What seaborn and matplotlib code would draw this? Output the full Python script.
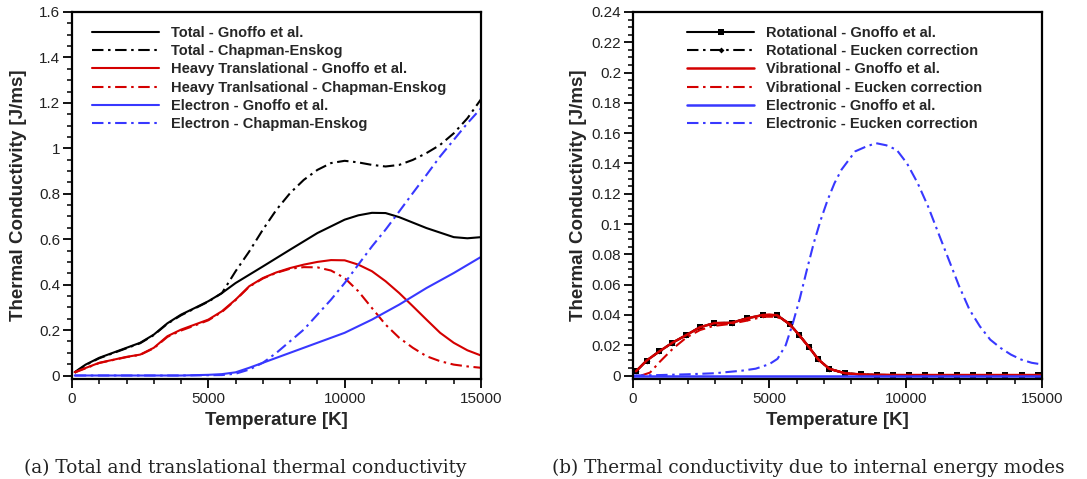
import numpy as np
import pandas as pd
import seaborn as sns
import matplotlib
matplotlib.use("Agg")
import matplotlib.pyplot as plt
from matplotlib.ticker import MultipleLocator, FuncFormatter

# ---------------- data: panel (a) ----------------
T_tot_g = [100, 500, 1000, 1500, 2000, 2500, 3000, 3500, 4000, 4500, 5000, 5500, 6000,
           7000, 8000, 9000, 10000, 10500, 11000, 11500, 12000, 13000, 14000, 14500, 15000]
k_tot_g = [0.015, 0.048, 0.078, 0.100, 0.122, 0.144, 0.180, 0.230, 0.268, 0.297, 0.327, 0.363, 0.407,
           0.480, 0.554, 0.627, 0.686, 0.705, 0.716, 0.715, 0.697, 0.649, 0.609, 0.604, 0.609]

T_tot_ce = [100, 500, 1000, 1500, 2000, 2500, 3000, 3500, 4000, 4500, 5000, 5500, 6000, 6500,
            7000, 7500, 8000, 8500, 9000, 9500, 10000, 10500, 11000, 11500, 12000, 12500,
            13000, 13500, 14000, 14500, 15000]
k_tot_ce = [0.012, 0.046, 0.076, 0.098, 0.120, 0.142, 0.178, 0.228, 0.265, 0.295, 0.325, 0.363, 0.459, 0.546,
            0.642, 0.730, 0.803, 0.861, 0.905, 0.935, 0.945, 0.938, 0.927, 0.920, 0.927, 0.949,
            0.979, 1.015, 1.066, 1.132, 1.216]

T_ht_g = [100, 1000, 2000, 2500, 3000, 3500, 4000, 4500, 5000, 5500, 6000, 6500, 7000, 7500,
          8000, 8500, 9000, 9500, 10000, 10500, 11000, 11500, 12000, 12500, 13000, 13500,
          14000, 14500, 15000]
k_ht_g = [0.015, 0.056, 0.082, 0.092, 0.122, 0.173, 0.202, 0.224, 0.246, 0.283, 0.334, 0.393, 0.429, 0.454,
          0.473, 0.488, 0.500, 0.508, 0.507, 0.488, 0.459, 0.415, 0.363, 0.305, 0.246, 0.188,
          0.144, 0.111, 0.088]

T_ht_ce = [100, 1000, 2000, 2500, 3000, 3500, 4000, 4500, 5000, 5500, 6000, 6500, 7000, 7500,
           8000, 8500, 9000, 9500, 10000, 10500, 11000, 11500, 12000, 12500, 13000, 13500,
           14000, 14500, 15000]
k_ht_ce = [0.013, 0.055, 0.081, 0.091, 0.120, 0.170, 0.198, 0.220, 0.243, 0.280, 0.332, 0.391, 0.427, 0.452,
           0.470, 0.477, 0.476, 0.462, 0.429, 0.371, 0.297, 0.224, 0.166, 0.122, 0.085, 0.063,
           0.048, 0.040, 0.034]

T_el_g = [100, 2000, 4000, 5000, 5500, 6000, 6500, 7000, 8000, 9000, 10000, 11000, 12000,
          13000, 14000, 15000]
k_el_g = [0.0, 0.0, 0.0, 0.003, 0.006, 0.014, 0.034, 0.056, 0.100, 0.144, 0.188, 0.246, 0.312,
          0.385, 0.451, 0.522]

T_el_ce = [100, 2000, 4000, 5500, 6000, 6500, 7000, 7500, 8000, 8500, 9000, 9500, 10000, 10500,
           11000, 11500, 12000, 12500, 13000, 13500, 14000, 14500, 15000]
k_el_ce = [0.0, 0.0, 0.0, 0.002, 0.008, 0.026, 0.056, 0.100, 0.151, 0.202, 0.268, 0.334, 0.407, 0.488,
           0.568, 0.642, 0.722, 0.803, 0.883, 0.964, 1.037, 1.110, 1.176]

# ---------------- data: panel (b) ----------------
T_rot = [110, 502, 965, 1442, 1944, 2457, 2983, 3620, 4170, 4757, 5293, 5758, 6100, 6455,
         6797, 7200, 7775, 8362, 8960, 9546, 10130, 10710, 11300, 11894, 12481, 13067,
         13654, 14278, 14865]
k_rot_g = [0.0028, 0.0099, 0.0159, 0.0216, 0.0266, 0.0319, 0.0346, 0.0348, 0.0377, 0.0399, 0.0397,
           0.0337, 0.0266, 0.0187, 0.0106, 0.0044, 0.0015, 0.0007, 0.0004, 0.0003, 0.0003,
           0.0002, 0.0002, 0.0002, 0.0002, 0.0002, 0.0002, 0.0002, 0.0002]
k_rot_e = [0.0028, 0.0099, 0.0159, 0.0216, 0.0266, 0.0319, 0.0346, 0.0348, 0.0377, 0.0399, 0.0397,
           0.0337, 0.0266, 0.0187, 0.0106, 0.0044, 0.0015, 0.0007, 0.0004, 0.0003, 0.0003,
           0.0002, 0.0002, 0.0002, 0.0002, 0.0002, 0.0002, 0.0002, 0.0002]

T_vib_g = [110, 502, 965, 1442, 1944, 2457, 2983, 3620, 4170, 4757, 5000, 5293, 5758, 6100, 6455,
           6797, 7200, 7775, 8362, 9000, 10000, 12000, 15000]
k_vib_g = [0.0028, 0.0099, 0.0159, 0.0216, 0.0266, 0.0319, 0.0346, 0.0348, 0.0377, 0.0399, 0.0402,
           0.0397, 0.0337, 0.0266, 0.0187, 0.0106, 0.0044, 0.0015, 0.0007, 0.0004, 0.0003,
           0.0003, 0.0003]

T_vib_e = [300, 623, 990, 1479, 1968, 2457, 2945, 3557, 4169, 4779, 5270, 5637, 6100, 6455,
           6797, 7200, 7775, 8362, 9000, 10000, 12000, 15000]
k_vib_e = [0.0, 0.0019, 0.0092, 0.0180, 0.0252, 0.0300, 0.0327, 0.0340, 0.0362, 0.0388, 0.0388,
           0.0355, 0.0266, 0.0187, 0.0106, 0.0044, 0.0015, 0.0007, 0.0004, 0.0003, 0.0003, 0.0003]

T_elec_g = [0, 5000, 10000, 15000]
k_elec_g = [0.0, 0.0, 0.0, 0.0]

T_elec_e = [0, 1000, 2000, 3000, 4000, 4500, 5000, 5300, 5600, 5870, 6120, 6380, 6630, 6890,
            7140, 7390, 7650, 7900, 8150, 8530, 8910, 9290, 9670, 10050, 10440, 10820, 11200,
            11580, 11960, 12340, 12720, 13100, 13480, 13860, 14240, 14620, 15000]
k_elec_e = [0.0, 0.0003, 0.0008, 0.0015, 0.0032, 0.0045, 0.0075, 0.011, 0.020, 0.035, 0.051, 0.070,
            0.0875, 0.103, 0.116, 0.127, 0.136, 0.142, 0.148, 0.151, 0.1534, 0.152, 0.149, 0.140,
            0.127, 0.1117, 0.094, 0.0765, 0.059, 0.0435, 0.0325, 0.0237, 0.0182, 0.0138,
            0.0105, 0.0084, 0.0073]

labels_a = ["Total - Gnoffo et al.", "Total - Chapman-Enskog",
            "Heavy Translational - Gnoffo et al.", "Heavy Tranlsational - Chapman-Enskog",
            "Electron - Gnoffo et al.", "Electron - Chapman-Enskog"]
labels_b = ["Rotational - Gnoffo et al.", "Rotational - Eucken correction",
            "Vibrational - Gnoffo et al.", "Vibrational - Eucken correction",
            "Electronic - Gnoffo et al.", "Electronic - Eucken correction"]

# ---------------- style ----------------
sns.set_theme(style="ticks")
plt.rcParams["font.family"] = ["Liberation Sans", "DejaVu Sans"]

BLACK = "#000000"
RED = "#d40000"
BLUE = "#3838ff"
DD = (0, (5.5, 2.2, 1.2, 2.2))
LW = 1.5

fig = plt.figure(figsize=(10.87, 4.79), dpi=100)
axA = fig.add_axes([72 / 1087, 1 - 379 / 479, 409 / 1087, 367 / 479])
axB = fig.add_axes([633 / 1087, 1 - 379 / 479, 409 / 1087, 367 / 479])


def line(ax, x, y, color, ls, label, lw=LW, **kw):
    sns.lineplot(x=np.asarray(x, float), y=np.asarray(y, float), ax=ax, color=color,
                 linestyle=ls, linewidth=lw, label=label, estimator=None, sort=False, **kw)


# panel (a)
line(axA, T_tot_g, k_tot_g, BLACK, "-", labels_a[0])
line(axA, T_tot_ce, k_tot_ce, BLACK, DD, labels_a[1])
line(axA, T_ht_g, k_ht_g, RED, "-", labels_a[2])
line(axA, T_ht_ce, k_ht_ce, RED, DD, labels_a[3])
line(axA, T_el_g, k_el_g, BLUE, "-", labels_a[4])
line(axA, T_el_ce, k_el_ce, BLUE, DD, labels_a[5])

# panel (b)
line(axB, T_rot, k_rot_e, BLACK, DD, labels_b[1], marker="D", markersize=3,
     markeredgewidth=0, markerfacecolor=BLACK)
line(axB, T_rot, k_rot_g, BLACK, "-", labels_b[0], marker="s", markersize=4.2,
     markeredgewidth=0, markerfacecolor=BLACK)
line(axB, T_vib_g, k_vib_g, RED, "-", labels_b[2], lw=1.8)
line(axB, T_vib_e, k_vib_e, RED, DD, labels_b[3])
line(axB, T_elec_g, k_elec_g, BLUE, "-", labels_b[4], lw=1.8)
line(axB, T_elec_e, k_elec_e, BLUE, DD, labels_b[5])


def fmt(v, pos):
    return "%g" % round(v, 6)


for ax, ymax, ymaj, ymin, lab, legx, ypad in [
        (axA, 1.6, 0.2, 0.05, labels_a, 0.049, 9),
        (axB, 0.24, 0.02, 0.005, labels_b, 0.132, 3)]:
    ax.set_xlim(0, 15000)
    ax.set_ylim(-ymax * 3.5 / 364, ymax)
    ax.xaxis.set_major_locator(MultipleLocator(5000))
    ax.xaxis.set_minor_locator(MultipleLocator(1000))
    ax.yaxis.set_major_locator(MultipleLocator(ymaj))
    ax.yaxis.set_minor_locator(MultipleLocator(ymin))
    ax.yaxis.set_major_formatter(FuncFormatter(fmt))
    ax.xaxis.set_major_formatter(FuncFormatter(fmt))
    ax.tick_params(which="major", direction="out", length=6.5, width=1.3,
                   labelsize=11, color="black", labelcolor="#222222", pad=2)
    ax.tick_params(axis="x", which="major", pad=3)
    ax.tick_params(which="minor", direction="out", length=3.3, width=1.1, color="black")
    for sp in ax.spines.values():
        sp.set_visible(True)
        sp.set_linewidth(1.6)
        sp.set_color("black")
    ax.set_xlabel("Temperature [K]", fontsize=13.5, fontweight="bold", labelpad=4.5)
    ax.set_ylabel("Thermal Conductivity [J/ms]", fontsize=13.5, fontweight="bold", labelpad=ypad)
    ax.grid(False)
    h, l = ax.get_legend_handles_labels()
    hd = dict(zip(l, h))
    ax.legend([hd[t] for t in lab], lab, loc="upper left", bbox_to_anchor=(legx, 0.962),
              frameon=False, borderpad=0, borderaxespad=0, handlelength=4.6,
              handletextpad=0.8, labelspacing=0.29, numpoints=1,
              prop={"family": ["Liberation Sans"], "weight": "bold", "size": 10.5})

capfont = {"family": ["DejaVu Serif"], "size": 13.3}
fig.text(245 / 1087, 1 - 468 / 479, "(a) Total and translational thermal conductivity",
         ha="center", va="center", fontdict=capfont, color="#222222")
fig.text(808 / 1087, 1 - 468 / 479, "(b) Thermal conductivity due to internal energy modes",
         ha="center", va="center", fontdict=capfont, color="#222222")

fig.savefig("out.png", dpi=100)
